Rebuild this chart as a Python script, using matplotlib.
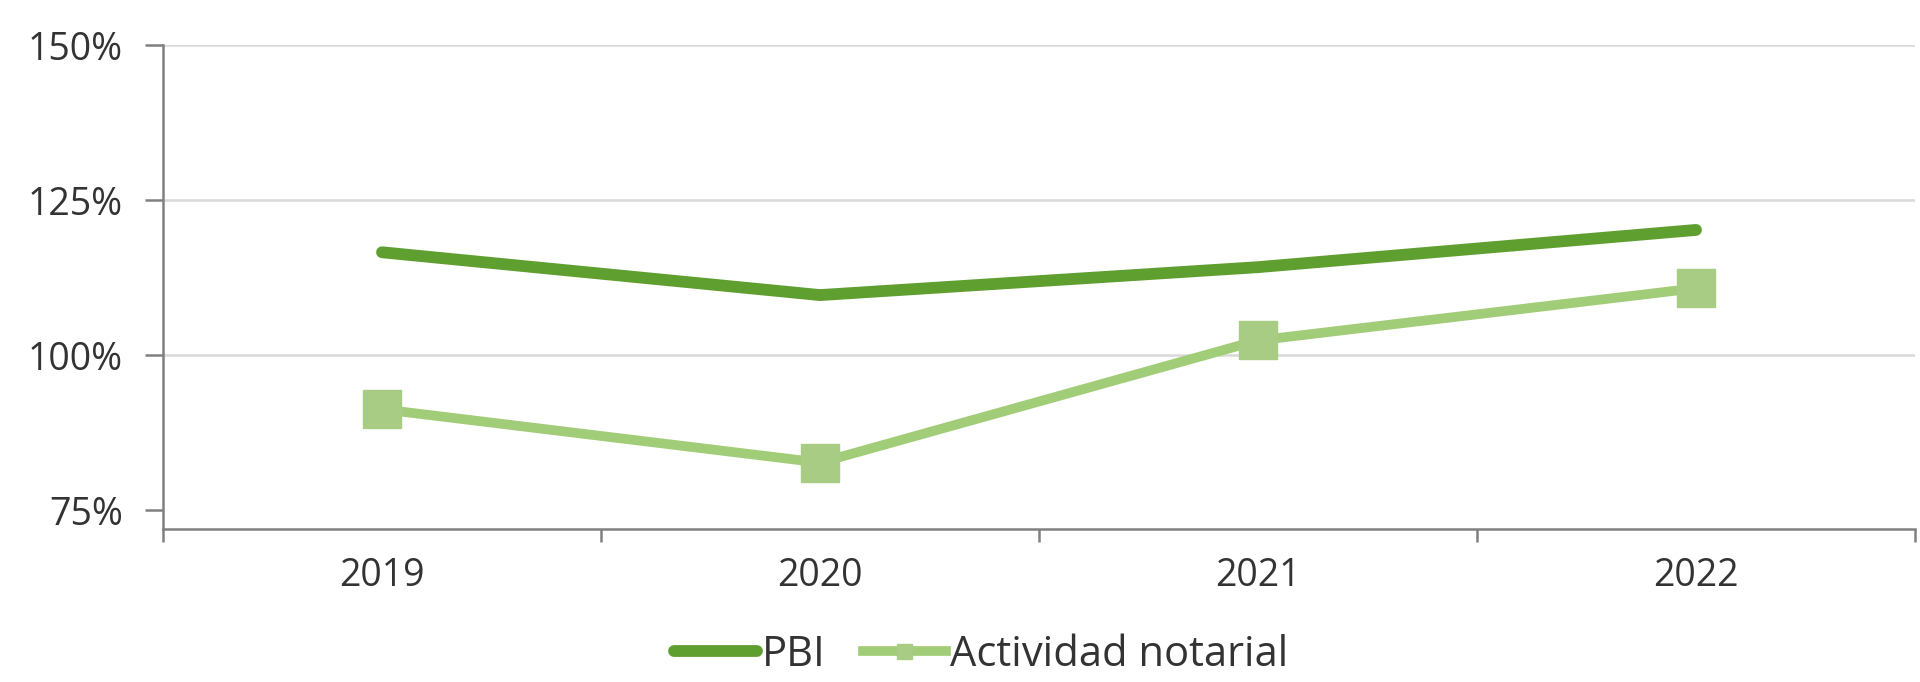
import matplotlib
matplotlib.use("Agg")
import matplotlib.pyplot as plt
from matplotlib.ticker import FixedLocator

years = ["2019", "2020", "2021", "2022"]
pbi = [116.6, 109.7, 114.2, 120.2]
actividad = [91.3, 82.7, 102.4, 110.8]
yticks = [75, 100, 125, 150]
ytick_labels = ["75%", "100%", "125%", "150%"]

plt.rcParams['font.family'] = ['Open Sans', 'DejaVu Sans']

fig = plt.figure(figsize=(19.2, 6.82), dpi=100)
ax = fig.add_axes([0.0849, 0.2243, 0.9125, 0.7097])

x = list(range(len(years)))
for yv in [100, 125, 150]:
    ax.axhline(yv, color="#d9d9d9", lw=1.8, zorder=0)

ax.plot(x, pbi, color="#5F9F2F", lw=8.5, solid_capstyle="round", label="PBI", zorder=3)
ax.plot(x, actividad, color="#A2CD78", lw=7, marker="s", markersize=27,
        markerfacecolor="#A9CC85", markeredgecolor="#A9CC85",
        label="Actividad notarial", zorder=2)

ax.set_xlim(-0.5, 3.5)
ax.set_ylim(72, 150)
ax.set_yticks(yticks)
ax.set_yticklabels(ytick_labels)
ax.set_xticks(x)
ax.set_xticklabels(years)
ax.xaxis.set_minor_locator(FixedLocator([-0.5, 0.5, 1.5, 2.5, 3.5]))
ax.tick_params(axis="x", which="major", length=0, pad=20, labelsize=27, labelcolor="#333333")
ax.tick_params(axis="x", which="minor", length=9, width=1.8, color="#808080")
ax.tick_params(axis="y", length=13, width=1.8, color="#808080", pad=16,
               labelsize=27, labelcolor="#333333")

for s in ["top", "right"]:
    ax.spines[s].set_visible(False)
for s in ["left", "bottom"]:
    ax.spines[s].set_color("#808080")
    ax.spines[s].set_linewidth(1.8)

handles, labels = ax.get_legend_handles_labels()
fig.legend(handles, labels, loc="center", bbox_to_anchor=(0.511, 0.04), ncol=2,
           frameon=False, fontsize=30, handlelength=2.0, columnspacing=0.9,
           handletextpad=0.1, markerscale=0.4, labelcolor="#333333",
           borderpad=0.2)

fig.savefig("out.png", dpi=100)
